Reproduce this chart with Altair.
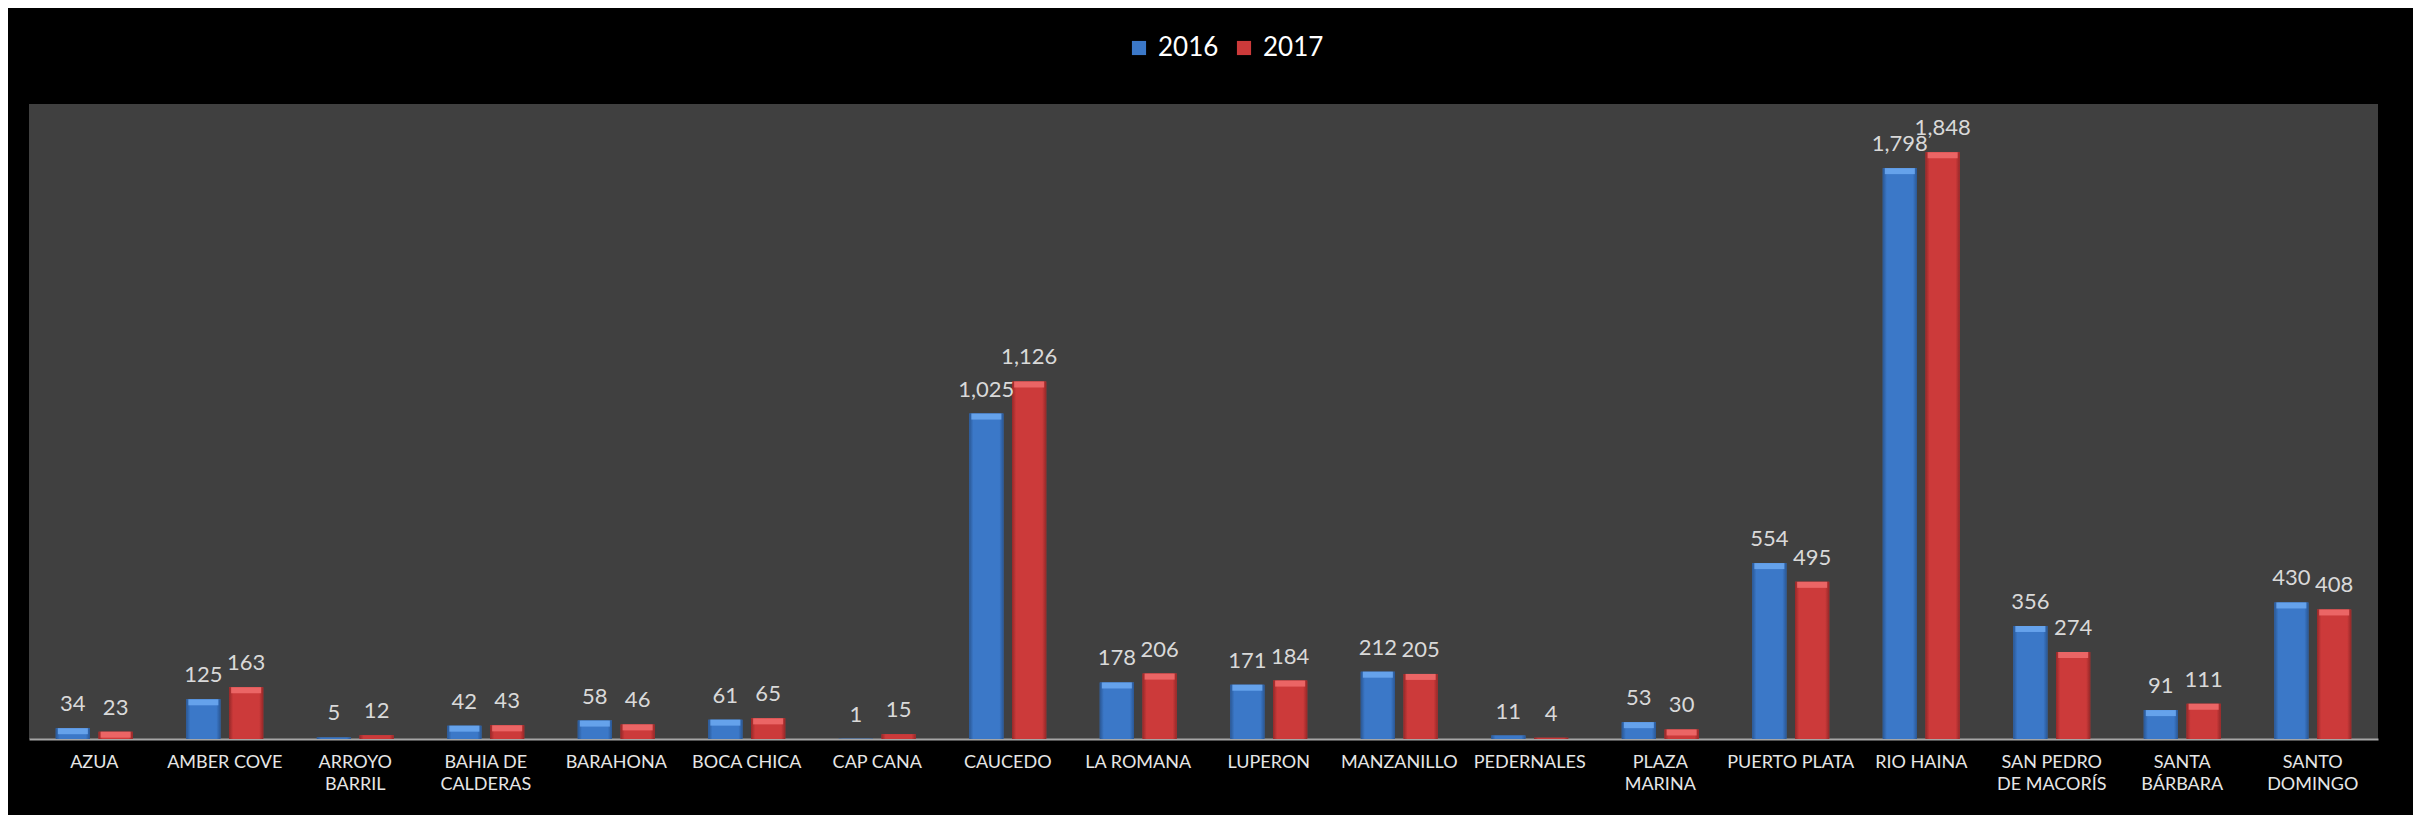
import altair as alt
import pandas as pd

ports = ["AZUA", "AMBER COVE", "ARROYO|BARRIL", "BAHIA DE|CALDERAS", "BARAHONA",
         "BOCA CHICA", "CAP CANA", "CAUCEDO", "LA ROMANA", "LUPERON", "MANZANILLO",
         "PEDERNALES", "PLAZA|MARINA", "PUERTO PLATA", "RIO HAINA",
         "SAN PEDRO|DE MACORÍS", "SANTA|BÁRBARA", "SANTO|DOMINGO"]
v2016 = [34, 125, 5, 42, 58, 61, 1, 1025, 178, 171, 212, 11, 53, 554, 1798, 356, 91, 430]
v2017 = [23, 163, 12, 43, 46, 65, 15, 1126, 206, 184, 205, 4, 30, 495, 1848, 274, 111, 408]
years = ["2016", "2017"]
base_colors = ["#3b78c8", "#cc3a3a"]
light_colors = ["#6aa6ee", "#ee6a6a"]
dark_colors = ["#2a5794", "#952828"]

rows = []
for p, a, b in zip(ports, v2016, v2017):
    rows.append({"port": p, "year": years[0], "value": a})
    rows.append({"port": p, "year": years[1], "value": b})
df = pd.DataFrame(rows)

x_enc = alt.X("port:N", sort=ports, title=None,
              scale=alt.Scale(paddingInner=0.41, paddingOuter=0.205),
              axis=alt.Axis(labelAngle=0, ticks=False, grid=False, domainColor="#a6a6a6",
                            domainWidth=2, labelColor="#e6e6e6", labelFont="Lato",
                            labelFontSize=18, labelPadding=14, labelLineHeight=22,
                            labelExpr="split(datum.value, '|')", labelLimit=300))
xo_enc = alt.XOffset("year:N", sort=years, scale=alt.Scale(paddingInner=0.2, paddingOuter=0))
y_enc = alt.Y("value:Q", scale=alt.Scale(domain=[0, 2000]), axis=None)

bars = alt.Chart(df).mark_bar(strokeWidth=0).encode(
    x=x_enc, xOffset=xo_enc, y=y_enc,
    color=alt.Color("year:N", sort=years,
                    scale=alt.Scale(domain=years, range=base_colors),
                    legend=alt.Legend(title=None, orient="none", direction="horizontal",
                                      legendX=1097, legendY=-69, labelColor="white",
                                      labelFont="Lato", labelFontSize=26, symbolType="square",
                                      symbolSize=200, symbolStrokeWidth=0, columnPadding=12,
                                      labelOffset=6)),
)

layers = [bars]
for yr, base, light, dark in zip(years, base_colors, light_colors, dark_colors):
    grad = {"x1": 0, "y1": 0, "x2": 1, "y2": 0, "gradient": "linear",
            "stops": [{"offset": 0, "color": dark}, {"offset": 0.12, "color": base},
                      {"offset": 0.88, "color": base}, {"offset": 1, "color": dark}]}
    layers.append(alt.Chart(df).transform_filter(alt.datum.year == yr).mark_bar(
        fill=grad, strokeWidth=0).encode(x=x_enc, xOffset=xo_enc, y=y_enc))
    layers.append(alt.Chart(df).transform_filter(
        (alt.datum.year == yr) & (alt.datum.value >= 20)).mark_tick(
        color=light, thickness=6, size=30, yOffset=3, opacity=0.9).encode(
        x=x_enc, xOffset=xo_enc, y=y_enc))

labels = alt.Chart(df).mark_text(baseline="bottom", dy=-12, color="#d9d9d9",
                                 font="Lato", fontSize=22).encode(
    x=x_enc, xOffset=xo_enc, y=y_enc, text=alt.Text("value:Q", format=","))
layers.append(labels)

chart = alt.layer(*layers).properties(
    width=2349, height=635, background="black",
    autosize=alt.AutoSizeParams(type="none"),
    padding={"left": 21, "top": 96, "right": 35, "bottom": 76},
).configure_view(fill="#404040", stroke=None)

chart.save("out.html", embed_options={"renderer": "svg", "actions": False})
